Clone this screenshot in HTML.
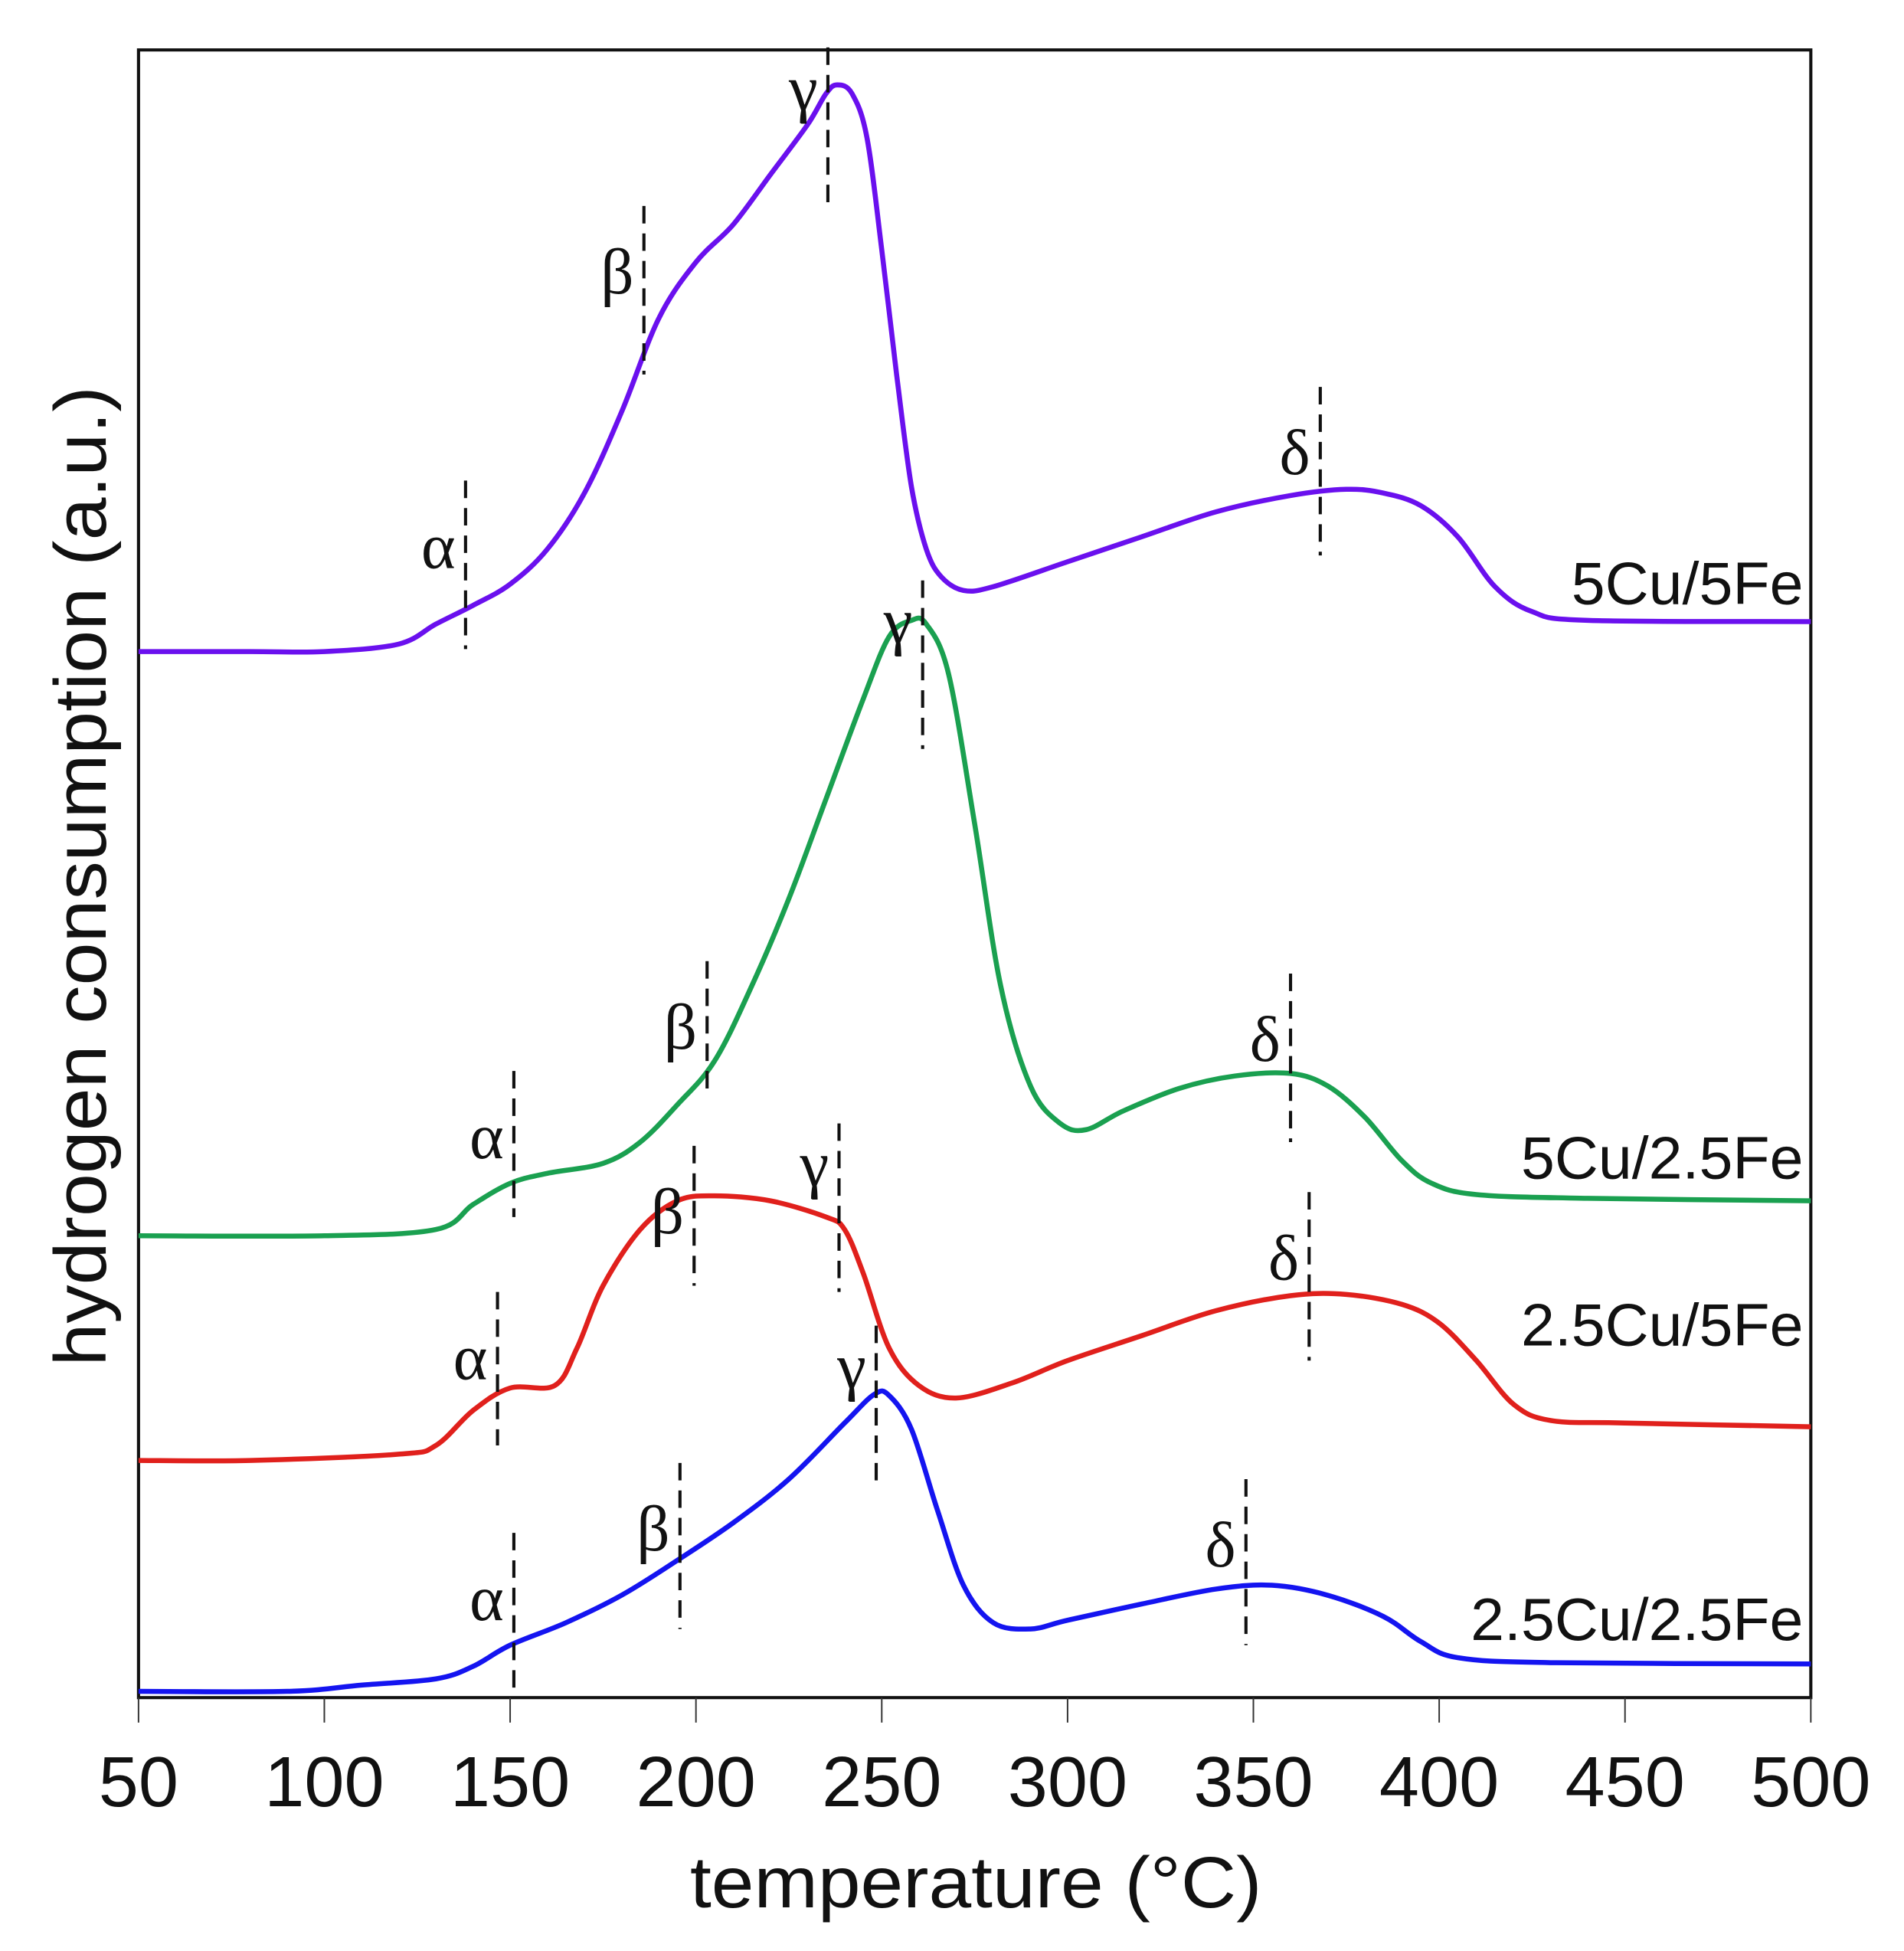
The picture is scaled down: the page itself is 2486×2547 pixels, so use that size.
<!DOCTYPE html>
<html><head><meta charset="utf-8"><style>
html,body{margin:0;padding:0;background:#fff;}
svg{display:block;}
text{font-family:"Liberation Sans",sans-serif;}
.gr{font-family:"Liberation Serif",serif;font-size:52px;fill:#111;}
</style></head><body>
<svg id="chart" width="2486" height="2547" viewBox="0 0 1512 1563" preserveAspectRatio="none" xmlns="http://www.w3.org/2000/svg">
<g id="plot"></g>
</svg>
<script>
const xTicks=[50,100,150,200,250,300,350,400,450,500];
const purpleT=[50,80,100,120,130,140,150,160,170,180,190,200,210,220,230,235,238,242,246,250,254,258,262,266,272,280,300,320,340,360,375,385,395,405,415,425,440,500];
const purpleV=[838,838,838,844,860,875,892,920,965,1030,1105,1150,1180,1220,1260,1285,1292,1285,1250,1160,1060,970,920,898,887,890,910,930,950,963,968,965,955,930,890,870,863,862];
const greenT=[50,100,130,140,150,160,175,185,195,205,215,225,235,245,252,258,262,268,275,282,290,298,305,315,330,345,360,370,380,390,398,410,440,500];
const greenV=[370,370,375,395,412,420,428,445,475,510,570,640,720,800,850,863,860,820,700,570,490,460,455,470,488,498,500,490,465,430,412,403,400,398];
const redT=[50,80,120,130,140,150,162,168,175,185,195,205,220,235,240,245,252,260,270,285,300,320,340,360,375,390,400,410,420,430,450,500];
const redV=[190,190,195,202,230,248,250,280,330,375,398,402,398,385,375,340,280,250,240,252,270,290,310,322,323,315,300,270,235,222,220,217];
const blueT=[50,90,110,130,140,150,165,180,195,210,225,240,248,252,258,265,272,280,290,300,320,340,355,370,385,395,405,430,500];
const blueV=[5,5,10,15,25,42,60,82,110,140,175,220,243,242,215,150,90,60,55,62,75,87,90,82,65,45,32,28,27];
const seriesNames=["5Cu/5Fe","5Cu/2.5Fe","2.5Cu/5Fe","2.5Cu/2.5Fe"];
const markerTemps=[[138,186,235.5,368],[151,203,261,360],[146.6,199.5,238.5,365],[151,195.7,248.5,348]];
const markerTops=[[975,1195,1322,1050],[502,590,895,580],[325,442,460,405],[132,188,298,175]];
const markerBots=[[840,1060,1190,915],[385,480,760,445],[202,330,325,270],[0,55,168,42]];
const labelY=[892,432,298,62];

const L=110,R=1438,T=40,B=1360;
const xs=t=>L+(t-50)/(500-50)*(R-L);
const ys=v=>B-v/(B-T)*(B-T);
const g=document.getElementById('plot');
const NS="http://www.w3.org/2000/svg";
function mk(tag,attrs){const e=document.createElementNS(NS,tag);for(const k in attrs)e.setAttribute(k,attrs[k]);g.appendChild(e);return e;}
function smooth(pts){
  let d='M'+pts[0][0].toFixed(1)+','+pts[0][1].toFixed(1);
  for(let i=0;i<pts.length-1;i++){
    const p0=pts[Math.max(0,i-1)],p1=pts[i],p2=pts[i+1],p3=pts[Math.min(pts.length-1,i+2)];
    const c1x=p1[0]+(p2[0]-p0[0])/6,c1y=p1[1]+(p2[1]-p0[1])/6;
    const c2x=p2[0]-(p3[0]-p1[0])/6,c2y=p2[1]-(p3[1]-p1[1])/6;
    d+='C'+c1x.toFixed(1)+','+c1y.toFixed(1)+' '+c2x.toFixed(1)+','+c2y.toFixed(1)+' '+p2[0].toFixed(1)+','+p2[1].toFixed(1);
  }
  return d;
}

const frame=mk('rect',{x:L,y:T,width:R-L,height:B-T,fill:'none',stroke:'#111','stroke-width':2.5});



xTicks.forEach(t=>{
  const l=mk('line',{x1:xs(t),x2:xs(t),y1:B,y2:B+20,stroke:'#333','stroke-width':1.2});
  
  
  const tx=mk('text',{x:xs(t),y:1447,'text-anchor':'middle','font-size':57,fill:'#111'});
  tx.textContent=t;
  
  
});
const xt=mk('text',{x:775,y:1528,'text-anchor':'middle','font-size':58,fill:'#111',textLength:454,lengthAdjust:'spacingAndGlyphs'});
xt.textContent='temperature (°C)';


const yt=mk('text',{x:0,y:0,'text-anchor':'middle','font-size':58,fill:'#111',textLength:785,lengthAdjust:'spacingAndGlyphs',transform:'translate(84,702) rotate(-90)'});
yt.textContent='hydrogen consumption (a.u.)';



const allT=[purpleT,greenT,redT,blueT],allV=[purpleV,greenV,redV,blueV];
const colors=['#6a10ee','#1aa050','#e0201c','#1414f0'];
const greek=['α','β','γ','δ'];
for(let s=0;s<4;s++){
  const pts=allT[s].map((t,i)=>[xs(t),ys(allV[s][i])]);
  const p=mk('path',{d:smooth(pts),fill:'none',stroke:colors[s],'stroke-width':4,'stroke-linejoin':'round'});
  
  
  const lb=mk('text',{x:1432,y:ys(labelY[s])+16,'text-anchor':'end','font-size':48,fill:'#111'});
  lb.textContent=seriesNames[s];
  
  
  for(let k=0;k<4;k++){
    const x=xs(markerTemps[s][k]);
    const ml=mk('line',{x1:x,x2:x,y1:ys(markerTops[s][k]),y2:ys(markerBots[s][k]),stroke:'#111','stroke-width':2.5,'stroke-dasharray':'14,8'});
    
    
    const gt=mk('text',{x:x-8,y:ys(markerTops[s][k])+(k==2?50:70),'text-anchor':'end'});
    gt.setAttribute('class','gr');
    gt.textContent=greek[k];
    
    
  }
}
</script>
</body></html>
